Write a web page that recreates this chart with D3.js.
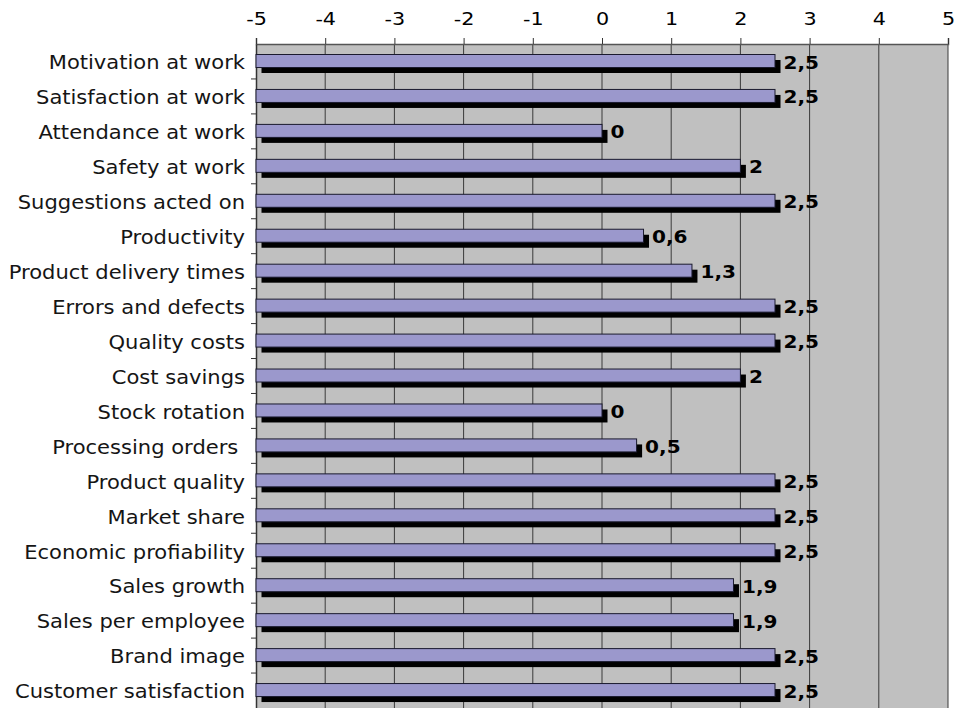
<!DOCTYPE html>
<html>
<head>
<meta charset="utf-8">
<script src="https://cdn.jsdelivr.net/npm/d3@7"></script>
<style>
  html, body { margin: 0; padding: 0; background: #ffffff; }
  svg { display: block; }
</style>
</head>
<body>
<svg id="chart" width="959" height="708"></svg>
<script>
// Indicators and their scores
const categories = [
  "Motivation at work", "Satisfaction at work", "Attendance at work", "Safety at work",
  "Suggestions acted on", "Productivity", "Product delivery times", "Errors and defects",
  "Quality costs", "Cost savings", "Stock rotation", "Processing orders ",
  "Product quality", "Market share", "Economic profiability", "Sales growth",
  "Sales per employee", "Brand image", "Customer satisfaction"
];
const scores = [2.5, 2.5, 0, 2, 2.5, 0.6, 1.3, 2.5, 2.5, 2, 0, 0.5, 2.5, 2.5, 2.5, 1.9, 1.9, 2.5, 2.5];
const tickValues = [-5, -4, -3, -2, -1, 0, 1, 2, 3, 4, 5];

const svg = d3.select("#chart");
const margin = { left: 256, right: 11, top: 44, bottom: 0 };
const W = 959, H = 708;
const FONT = "DejaVu Sans, Verdana, sans-serif";

const x = d3.scaleLinear().domain([-5, 5]).range([margin.left, W - margin.right]);
const y = d3.scaleBand().domain(categories).range([margin.top, H - margin.bottom]).paddingInner(0);

// Plot background
svg.append("rect")
  .attr("x", x(-5)).attr("y", margin.top)
  .attr("width", x(5) - x(-5)).attr("height", H - margin.top)
  .attr("fill", "#c0c0c0");

// Vertical gridlines
svg.append("g").selectAll("line")
  .data(tickValues.slice(1))
  .join("line")
  .attr("x1", d => x(d)).attr("x2", d => x(d))
  .attr("y1", margin.top).attr("y2", H)
  .attr("stroke", "#3a3a3a").attr("stroke-width", 1);

// Top axis
const topAxis = svg.append("g").attr("transform", `translate(0,${margin.top})`)
  .call(d3.axisTop(x).tickValues(tickValues).tickSize(6).tickPadding(13).tickFormat(d3.format("d")));
topAxis.select(".domain").attr("stroke", "#555").attr("stroke-width", 1.5);
topAxis.selectAll(".tick line").attr("stroke", "#333");
topAxis.selectAll("text")
  .attr("font-family", FONT)
  .attr("font-size", 18.5).attr("fill", "#000")
  .attr("y", 0)
  .attr("transform", "translate(0,-19) scale(1.12,1)")
  .text(d => d < 0 ? "-" + Math.abs(d) : d);

// Left axis
const leftAxis = svg.append("g").attr("transform", `translate(${x(-5)},0)`)
  .call(d3.axisLeft(y).tickSize(0).tickPadding(11));
leftAxis.select(".domain").attr("stroke", "#333").attr("stroke-width", 1.5);
leftAxis.selectAll("text")
  .attr("font-family", FONT)
  .attr("font-size", 19.5).attr("fill", "#151515")
  .attr("x", 0).attr("dy", "0.4em")
  .attr("transform", "translate(-11,0) scale(1.08,1)")
  .style("white-space", "pre");
// Tick marks at band boundaries
svg.append("g").selectAll("line")
  .data(categories.slice(1))
  .join("line")
  .attr("x1", x(-5) - 5).attr("x2", x(-5))
  .attr("y1", d => y(d)).attr("y2", d => y(d))
  .attr("stroke", "#333");

// Bars with a drop shadow
const barH = 13, shadow = 5.5, barOffset = 10.5;
const rows = svg.append("g").selectAll("g")
  .data(categories.map((c, i) => ({ c, v: scores[i] })))
  .join("g")
  .attr("transform", d => `translate(0,${y(d.c) + barOffset})`);

rows.append("rect")
  .attr("x", x(-5) + shadow).attr("y", shadow)
  .attr("width", d => x(d.v) - x(-5)).attr("height", barH)
  .attr("fill", "#000");

rows.append("rect")
  .attr("x", x(-5)).attr("y", 0)
  .attr("width", d => x(d.v) - x(-5)).attr("height", barH)
  .attr("fill", "#9b98cc").attr("stroke", "#1a1a2e").attr("stroke-width", 1);

const fmt = v => String(v).replace(".", ",");
rows.append("text")
  .attr("transform", d => `translate(${x(d.v) + shadow + 3},${barH / 2 + 2.5}) scale(1.18,1)`)
  .attr("dominant-baseline", "middle")
  .attr("font-family", FONT)
  .attr("font-weight", "bold")
  .attr("font-size", 17)
  .attr("fill", "#000")
  .text(d => fmt(d.v));
</script>
</body>
</html>
